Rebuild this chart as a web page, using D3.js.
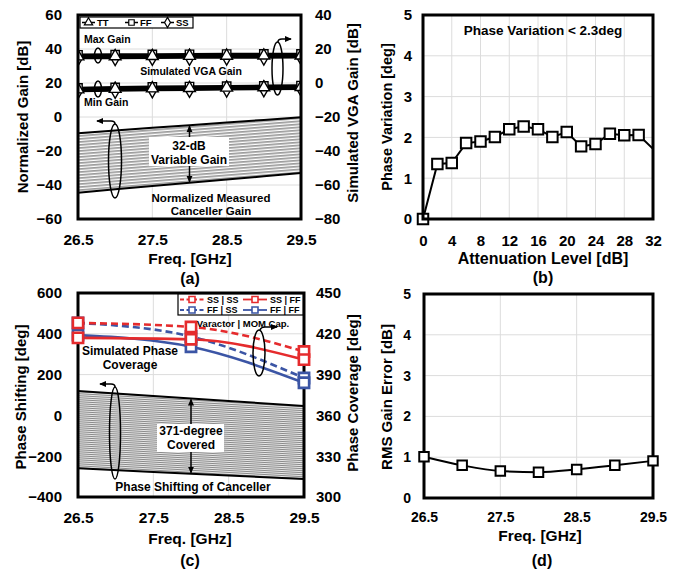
<!DOCTYPE html>
<html>
<head>
<meta charset="UTF-8">
<script src="https://cdn.jsdelivr.net/npm/d3@7"></script>
<style>
body { margin: 0; background: #fff; }
svg { font-family: "Liberation Sans", Arial, sans-serif; font-weight: bold; }
</style>
</head>
<body>
<script>
// ---- data ----
// (a) normalized canceller gain + simulated VGA gain
const freqA = [26.5, 27, 27.5, 28, 28.5, 29, 29.5];
const vgaMaxTT = [15.6, 15.7, 15.8, 15.9, 16.0, 16.1, 16.1];
const vgaMaxFF = [16.6, 16.7, 16.8, 16.9, 17.0, 17.1, 17.1];
const vgaMaxSS = [14.7, 14.8, 14.9, 15.0, 15.1, 15.1, 15.2];
const vgaMinTT = [-3.8, -3.5, -3.2, -3.0, -2.8, -2.6, -2.4];
const vgaMinFF = [-2.9, -2.6, -2.3, -2.1, -1.9, -1.7, -1.5];
const vgaMinSS = [-4.7, -4.4, -4.1, -3.9, -3.7, -3.5, -3.3];
const cancGainMax = [-9.6, -7.9, -6.3, -4.8, -3.3, -1.7, -0.2];
const cancGainMin = [-44.5, -42.5, -40.6, -38.7, -36.8, -34.9, -33.0];

// (b) phase variation vs attenuation
const attenB = [0, 2, 4, 6, 8, 10, 12, 14, 16, 18, 20, 22, 24, 26, 28, 30, 32];
const phaseVarB = [0, 1.35, 1.37, 1.86, 1.9, 2.01, 2.2, 2.27, 2.2, 2.01, 2.13, 1.78, 1.84, 2.09, 2.05, 2.06, 1.72];

// (c) phase shifting / simulated coverage
const freqC = [26.5, 28, 29.5];
const covSSSS = [428, 425, 407];
const covSSFF = [417, 416, 401];
const covFFSS = [428, 418, 387.5];
const covFFFF = [419, 410.5, 384];
const freqCanc = [26.5, 27.5, 28.5, 29.5];
const cancPhaseMax = [120, 95, 71, 46];
const cancPhaseMin = [-259, -277, -295, -312];

// (d) rms gain error
const freqD = [26.5, 27, 27.5, 28, 28.5, 29, 29.5];
const rmsErrD = [1.01, 0.80, 0.66, 0.63, 0.70, 0.80, 0.91];

// ticks
const ticksFreq = [26.5, 27.5, 28.5, 29.5];
const ticksAL = [-60, -40, -20, 0, 20, 40, 60];
const ticksAR = [-80, -60, -40, -20, 0, 20, 40];
const ticksBX = [0, 4, 8, 12, 16, 20, 24, 28, 32];
const ticks05 = [0, 1, 2, 3, 4, 5];
const ticksCL = [-400, -200, 0, 200, 400, 600];
const ticksCR = [300, 330, 360, 390, 420, 450];

const FONT = '"Liberation Sans", Arial, sans-serif';
const RED = "#e52b2d", BLUE = "#3b55a5", GRID = "#dcdcdc";

const svg = d3.select("body").append("svg")
    .attr("width", 681)
    .attr("height", 571);

const defs = svg.append("defs");

function arrowDef(id) {
    defs.append("marker")
        .attr("id", id)
        .attr("viewBox", "0 0 8 8")
        .attr("refX", 7).attr("refY", 4)
        .attr("markerWidth", 7).attr("markerHeight", 7)
        .attr("markerUnits", "userSpaceOnUse")
        .attr("orient", "auto-start-reverse")
        .append("path")
        .attr("d", "M0,0.5 L8,4 L0,7.5 Z")
        .attr("fill", "#000");
}
arrowDef("arr");

function stripes(id, h, w, color, angle) {
    const p = defs.append("pattern")
        .attr("id", id)
        .attr("patternUnits", "userSpaceOnUse")
        .attr("width", 20).attr("height", h)
        .attr("patternTransform", `rotate(${angle})`);
    p.append("rect").attr("width", 20).attr("height", h).attr("fill", "#fff");
    p.append("rect").attr("width", 20).attr("height", w).attr("fill", color);
}
stripes("stripeA", 3, 1.7, "#9a9a9a", -4.6);
stripes("stripeC", 2, 1.2, "#8a8a8a", 3.3);

function clip(id, x, y) {
    defs.append("clipPath").attr("id", id)
        .append("rect")
        .attr("x", x.range()[0]).attr("y", y.range()[1])
        .attr("width", x.range()[1] - x.range()[0])
        .attr("height", y.range()[0] - y.range()[1]);
}

function grid(g, x, y, xv, yv) {
    g.selectAll(null).data(xv).enter().append("line")
        .attr("x1", d => x(d)).attr("x2", d => x(d))
        .attr("y1", y.range()[0]).attr("y2", y.range()[1])
        .attr("stroke", GRID).attr("stroke-width", 1);
    g.selectAll(null).data(yv).enter().append("line")
        .attr("y1", d => y(d)).attr("y2", d => y(d))
        .attr("x1", x.range()[0]).attr("x2", x.range()[1])
        .attr("stroke", GRID).attr("stroke-width", 1);
}

function frame(g, x, y) {
    g.append("rect")
        .attr("x", x.range()[0]).attr("y", y.range()[1])
        .attr("width", x.range()[1] - x.range()[0])
        .attr("height", y.range()[0] - y.range()[1])
        .attr("fill", "none").attr("stroke", "#000").attr("stroke-width", 3);
}

function styleAxis(g, fs) {
    g.attr("font-family", FONT).attr("font-size", fs).attr("font-weight", "bold");
    g.select(".domain").remove();
    g.selectAll("text").attr("fill", "#000");
}

function label(x, y, txt, fs, anchor, rot) {
    const t = svg.append("text")
        .attr("font-size", fs)
        .attr("text-anchor", anchor || "middle")
        .text(txt);
    if (rot) t.attr("transform", `translate(${x},${y}) rotate(-90)`).attr("dy", "0.35em");
    else t.attr("x", x).attr("y", y);
    return t;
}

function ellipse(cx, cy, rx, ry) {
    svg.append("ellipse")
        .attr("cx", cx).attr("cy", cy).attr("rx", rx).attr("ry", ry)
        .attr("fill", "none").attr("stroke", "#000").attr("stroke-width", 1.5);
}

function arrowPath(d, both) {
    const p = svg.append("path").attr("d", d)
        .attr("fill", "none").attr("stroke", "#000").attr("stroke-width", 1.5)
        .attr("marker-end", "url(#arr)");
    if (both) p.attr("marker-start", "url(#arr)");
}

function markers(g, xs, ys, x, y, type, size, stroke, sw) {
    const sym = d3.symbol().type(type).size(size);
    g.selectAll(null).data(xs).enter().append("path")
        .attr("d", sym)
        .attr("transform", (d, i) => `translate(${x(d)},${y(ys[i])})`)
        .attr("fill", "#fff").attr("stroke", stroke).attr("stroke-width", sw);
}

function pairs(xs, ys) { return xs.map((d, i) => [d, ys[i]]); }

// =========== (a) ===========
{
    const x = d3.scaleLinear().domain([26.5, 29.5]).range([78, 301]);
    const yL = d3.scaleLinear().domain([-60, 60]).range([219, 15]);
    const yR = d3.scaleLinear().domain([-80, 40]).range([219, 15]);
    const g = svg.append("g");
    clip("clipA", x, yL);
    grid(g, x, yL, [27.5, 28.5], [-40, -20, 0, 20, 40]);

    const dg = g.append("g").attr("clip-path", "url(#clipA)");
    const area = d3.area().x(d => x(d[0])).y0(d => yL(d[1])).y1(d => yL(d[2]));
    dg.append("path")
        .attr("d", area(freqA.map((f, i) => [f, cancGainMin[i], cancGainMax[i]])))
        .attr("fill", "url(#stripeA)");
    const lineL = d3.line().x(d => x(d[0])).y(d => yL(d[1]));
    [cancGainMax, cancGainMin].forEach(s => {
        dg.append("path").attr("d", lineL(pairs(freqA, s)))
            .attr("fill", "none").attr("stroke", "#000").attr("stroke-width", 2);
    });

    const lineR = d3.line().x(d => x(d[0])).y(d => yR(d[1]));
    [vgaMaxSS, vgaMaxFF, vgaMaxTT, vgaMinSS, vgaMinFF, vgaMinTT].forEach(s => {
        dg.append("path").attr("d", lineR(pairs(freqA, s)))
            .attr("fill", "none").attr("stroke", "#000").attr("stroke-width", 2.6);
    });
    [[vgaMaxSS, d3.symbolDiamond, 70], [vgaMaxFF, d3.symbolSquare, 70], [vgaMaxTT, d3.symbolTriangle, 60],
     [vgaMinSS, d3.symbolDiamond, 70], [vgaMinFF, d3.symbolSquare, 70], [vgaMinTT, d3.symbolTriangle, 60]]
        .forEach(([s, t, sz]) => markers(dg, freqA, s, x, yR, t, sz, "#000", 1.4));

    frame(g, x, yL);

    g.append("g").attr("transform", "translate(0,219)")
        .call(d3.axisBottom(x).tickValues(ticksFreq).tickSize(0).tickPadding(15).tickFormat(d3.format(".1f")))
        .call(a => styleAxis(a, 15.5));
    g.append("g").attr("transform", "translate(78,0)")
        .call(d3.axisLeft(yL).tickValues(ticksAL).tickSize(0).tickPadding(16))
        .call(a => styleAxis(a, 15));
    g.append("g").attr("transform", "translate(301,0)")
        .call(d3.axisRight(yR).tickValues(ticksAR).tickSize(0).tickPadding(14))
        .call(a => styleAxis(a, 15));

    label(190, 264, "Freq. [GHz]", 15.5);
    label(190, 284, "(a)", 16);
    label(23, 117, "Normalized Gain [dB]", 15, "middle", true);
    label(353, 113, "Simulated VGA Gain [dB]", 15, "middle", true);

    // legend
    svg.append("rect").attr("x", 80).attr("y", 17).attr("width", 113).attr("height", 11)
        .attr("fill", "#fff").attr("stroke", "#000").attr("stroke-width", 1.2);
    const legA = [["TT", d3.symbolTriangle, 82], ["FF", d3.symbolSquare, 125], ["SS", d3.symbolDiamond, 161]];
    legA.forEach(([name, t, lx]) => {
        svg.append("line").attr("x1", lx).attr("x2", lx + 13).attr("y1", 22.5).attr("y2", 22.5)
            .attr("stroke", "#000").attr("stroke-width", 1.5);
        svg.append("path").attr("d", d3.symbol().type(t).size(30))
            .attr("transform", `translate(${lx + 6.5},22.5)`)
            .attr("fill", "#fff").attr("stroke", "#000").attr("stroke-width", 1.2);
        label(lx + 15, 26, name, 9.5, "start");
    });

    label(84, 43, "Max Gain", 10.5, "start");
    label(84, 106, "Min Gain", 10.5, "start");
    ellipse(98, 55.5, 3.5, 7.5);
    ellipse(98, 89, 3.5, 8);
    label(191, 75, "Simulated VGA Gain", 10.5);
    ellipse(277.5, 68.5, 5.5, 26.5);
    arrowPath("M278,42 Q278,39 282,39 L291,39");

    ellipse(115, 161, 6.5, 37);
    arrowPath("M115,124 Q115,121 111,121 L97,121");

    const xm = x(freqA[3]);
    arrowPath(`M${xm},${yL(cancGainMax[3]) + 1} L${xm},${yL(cancGainMin[3]) - 1}`, true);
    svg.append("rect").attr("x", 149).attr("y", 137).attr("width", 80).attr("height", 29).attr("fill", "#fff");
    label(189, 150, "32-dB", 12);
    label(189, 163.5, "Variable Gain", 12);

    label(211, 202, "Normalized Measured", 11.5);
    label(211, 215, "Canceller Gain", 11.5);
}

// =========== (b) ===========
{
    const x = d3.scaleLinear().domain([0, 32]).range([423, 653]);
    const y = d3.scaleLinear().domain([0, 5]).range([219, 15]);
    const g = svg.append("g");
    clip("clipB", x, y);
    grid(g, x, y, [4, 8, 12, 16, 20, 24, 28], [1, 2, 3, 4]);
    const dg = g.append("g").attr("clip-path", "url(#clipB)");
    dg.append("path")
        .attr("d", d3.line().x(d => x(d[0])).y(d => y(d[1]))(pairs(attenB, phaseVarB)))
        .attr("fill", "none").attr("stroke", "#000").attr("stroke-width", 2);
    const mx = attenB.filter(d => d < 32);
    markers(g, mx, phaseVarB, x, y, d3.symbolSquare, 110, "#000", 2);
    frame(g, x, y);

    g.append("g").attr("transform", "translate(0,219)")
        .call(d3.axisBottom(x).tickValues(ticksBX).tickSize(0).tickPadding(16))
        .call(a => styleAxis(a, 15));
    g.append("g").attr("transform", "translate(423,0)")
        .call(d3.axisLeft(y).tickValues(ticks05).tickSize(0).tickPadding(11).tickFormat(d3.format("d")))
        .call(a => styleAxis(a, 15));

    label(543, 264, "Attenuation Level [dB]", 16);
    label(543, 283, "(b)", 16);
    label(387, 117, "Phase Variation [deg]", 14.5, "middle", true);
    label(543, 35, "Phase Variation < 2.3deg", 13.5);
}

// =========== (c) ===========
{
    const x = d3.scaleLinear().domain([26.5, 29.5]).range([78, 304]);
    const yL = d3.scaleLinear().domain([-400, 600]).range([497, 293]);
    const yR = d3.scaleLinear().domain([300, 450]).range([497, 293]);
    const g = svg.append("g");
    clip("clipC", x, yL);
    grid(g, x, yL, [27.5, 28.5], [-200, 0, 200, 400]);
    const dg = g.append("g").attr("clip-path", "url(#clipC)");

    const area = d3.area().x(d => x(d[0])).y0(d => yL(d[1])).y1(d => yL(d[2]));
    dg.append("path")
        .attr("d", area(freqCanc.map((f, i) => [f, cancPhaseMin[i], cancPhaseMax[i]])))
        .attr("fill", "url(#stripeC)");
    const lineL = d3.line().x(d => x(d[0])).y(d => yL(d[1]));
    [cancPhaseMax, cancPhaseMin].forEach(s => {
        dg.append("path").attr("d", lineL(pairs(freqCanc, s)))
            .attr("fill", "none").attr("stroke", "#000").attr("stroke-width", 2);
    });

    const lineR = d3.line().curve(d3.curveMonotoneX).x(d => x(d[0])).y(d => yR(d[1]));
    const series = [
        [covFFSS, BLUE, "7,4"], [covFFFF, BLUE, null],
        [covSSSS, RED, "7,4"], [covSSFF, RED, null]
    ];
    series.forEach(([s, c, dash]) => {
        const p = dg.append("path").attr("d", lineR(pairs(freqC, s)))
            .attr("fill", "none").attr("stroke", c).attr("stroke-width", 2.6);
        if (dash) p.attr("stroke-dasharray", dash);
    });
    frame(g, x, yL);
    series.forEach(([s, c]) => markers(g, freqC, s, x, yR, d3.symbolSquare, 105, c, 2.6));

    g.append("g").attr("transform", "translate(0,497)")
        .call(d3.axisBottom(x).tickValues(ticksFreq).tickSize(0).tickPadding(15).tickFormat(d3.format(".1f")))
        .call(a => styleAxis(a, 15.5));
    g.append("g").attr("transform", "translate(78,0)")
        .call(d3.axisLeft(yL).tickValues(ticksCL).tickSize(0).tickPadding(16))
        .call(a => styleAxis(a, 15));
    g.append("g").attr("transform", "translate(304,0)")
        .call(d3.axisRight(yR).tickValues(ticksCR).tickSize(0).tickPadding(12))
        .call(a => styleAxis(a, 15));

    label(190, 544, "Freq. [GHz]", 15.5);
    label(190, 566, "(c)", 16);
    label(21, 397, "Phase Shifting [deg]", 15, "middle", true);
    label(353, 393, "Phase Coverage [deg]", 15, "middle", true);

    // legend
    svg.append("rect").attr("x", 178).attr("y", 294).attr("width", 125).attr("height", 21)
        .attr("fill", "#fff").attr("stroke", "#000").attr("stroke-width", 1.2);
    const legC = [
        ["SS | SS", RED, "4,2.5", 180, 299.5], ["SS | FF", RED, null, 243, 299.5],
        ["FF | SS", BLUE, "4,2.5", 180, 310], ["FF | FF", BLUE, null, 243, 310]
    ];
    legC.forEach(([name, c, dash, lx, ly]) => {
        const l = svg.append("line").attr("x1", lx).attr("x2", lx + 24).attr("y1", ly).attr("y2", ly)
            .attr("stroke", c).attr("stroke-width", 1.8);
        if (dash) l.attr("stroke-dasharray", dash);
        svg.append("path").attr("d", d3.symbol().type(d3.symbolSquare).size(36))
            .attr("transform", `translate(${lx + 12},${ly})`)
            .attr("fill", "#fff").attr("stroke", c).attr("stroke-width", 1.6);
        label(lx + 27, ly + 3.2, name, 9, "start");
    });

    label(243, 327, "Varactor | MOM Cap.", 9.5);
    ellipse(259, 353, 6, 23);
    arrowPath("M260,330 Q261,327 265,327 L277,327");
    label(130, 355, "Simulated Phase", 12);
    label(130, 369, "Coverage", 12);

    ellipse(115, 433, 5.5, 46);
    arrowPath("M115,387 Q115,384 111,384 L100,384");

    const xm = x(28);
    const topM = d3.scaleLinear().domain(freqCanc).range(cancPhaseMax)(28);
    const botM = d3.scaleLinear().domain(freqCanc).range(cancPhaseMin)(28);
    arrowPath(`M${xm},${yL(topM) + 1} L${xm},${yL(botM) - 1}`, true);
    svg.append("rect").attr("x", 157).attr("y", 424).attr("width", 67).attr("height", 28).attr("fill", "#fff");
    label(191, 435, "371-degree", 12);
    label(191, 449, "Covered", 12);
    label(193, 491, "Phase Shifting of Canceller", 12);
}

// =========== (d) ===========
{
    const x = d3.scaleLinear().domain([26.5, 29.5]).range([424, 653]);
    const y = d3.scaleLinear().domain([0, 5]).range([498, 294]);
    const g = svg.append("g");
    grid(g, x, y, [27.5, 28.5], [1, 2, 3, 4]);
    g.append("path")
        .attr("d", d3.line().curve(d3.curveMonotoneX).x(d => x(d[0])).y(d => y(d[1]))(pairs(freqD, rmsErrD)))
        .attr("fill", "none").attr("stroke", "#000").attr("stroke-width", 2);
    frame(g, x, y);
    markers(g, freqD, rmsErrD, x, y, d3.symbolSquare, 90, "#000", 2);

    g.append("g").attr("transform", "translate(0,498)")
        .call(d3.axisBottom(x).tickValues(ticksFreq).tickSize(0).tickPadding(14).tickFormat(d3.format(".1f")))
        .call(a => styleAxis(a, 14));
    g.append("g").attr("transform", "translate(424,0)")
        .call(d3.axisLeft(y).tickValues(ticks05).tickSize(0).tickPadding(13).tickFormat(d3.format("d")))
        .call(a => styleAxis(a, 14));

    label(540, 541, "Freq. [GHz]", 15.5);
    label(542, 566, "(d)", 16);
    label(387, 397, "RMS Gain Error [dB]", 15, "middle", true);
}
</script>
</body>
</html>
